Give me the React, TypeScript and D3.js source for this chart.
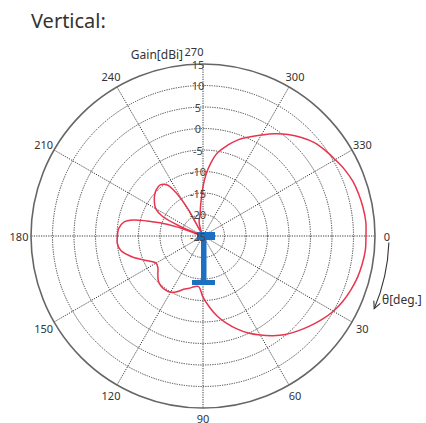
import React from "react";
import * as d3 from "d3";

// measured pattern, angle in degrees (0 = right, clockwise), gain in dBi
const angles = [
  0, 5, 10, 15, 20, 25, 30, 35, 40, 45, 50, 55, 60, 65, 70, 75, 80, 85, 90, 95,
  100, 105, 110, 115, 120, 125, 130, 135, 140, 145, 150, 155, 160, 165, 170,
  175, 180, 185, 190, 193, 195, 197, 199, 201, 203, 206, 210, 215, 220, 225,
  230, 235, 238, 241, 244, 248, 255, 262, 266, 270, 273, 276, 280, 285, 290,
  295, 300, 305, 310, 315, 320, 325, 330, 335, 340, 345, 350, 355,
];
const gains = [
  12.9, 12.9, 12.6, 12.2, 11.6, 10.9, 10.0, 8.8, 7.5, 6.2, 4.9, 3.3, 1.6, -0.1,
  -2.0, -4.0, -6.1, -8.5, -10.8, -13.2, -13.0, -12.4, -11.8, -10.7, -9.9, -9.7,
  -9.8, -10.3, -11.3, -12.2, -12.4, -11.2, -9.3, -7.3, -5.6, -5.0, -5.1, -5.3,
  -6.3, -8.4, -11.5, -14.5, -18.5, -25, -19, -14.4, -12.3, -11.2, -10.3, -9.7,
  -9.5, -10.5, -13, -18, -25, -24, -21.5, -20, -17.5, -13.5, -10.5, -8, -5.3,
  -3.2, -1.2, 0.4, 2.1, 4.0, 5.8, 7.4, 8.8, 9.7, 10.5, 11.4, 12.1, 12.5, 12.8,
  13.0,
];
const ringTicks = [15, 10, 5, 0, -5, -10, -15, -20, -25];
const spokeAngles = [0, 30, 60, 90, 120, 150, 180, 210, 240, 270, 300, 330];

const W = 426;
const H = 423;
const cx = 203;
const cy = 236;
const R = 172;
const font = "'Noto Sans', 'Open Sans', sans-serif";

export default function App() {
  const r = d3.scaleLinear().domain([-25, 15]).range([0, R]).clamp(true);
  const rad = (deg: number) => (deg * Math.PI) / 180;

  const pts = angles.map((a, i) => ({ a, g: gains[i] }));
  // lineRadial measures from 12 o'clock, so shift by 90deg
  const line = d3
    .lineRadial<{ a: number; g: number }>()
    .angle((d) => rad(d.a + 90))
    .radius((d) => r(d.g))
    .curve(d3.curveCatmullRomClosed.alpha(0.5));

  // theta arrow
  const arrow = d3.path();
  arrow.arc(cx, cy, 186, rad(2), rad(23));
  const tipA = rad(23);
  const tip = [cx + 186 * Math.cos(tipA), cy + 186 * Math.sin(tipA)];
  const back = Math.atan2(-Math.cos(tipA), Math.sin(tipA)); // reverse of tangent
  const wing = (off: number) => [
    tip[0] + 8 * Math.cos(back + off),
    tip[1] + 8 * Math.sin(back + off),
  ];
  const w1 = wing(0.45);
  const w2 = wing(-0.45);

  return (
    <svg
      width={W}
      height={H}
      style={{ position: "absolute", left: 0, top: 0, background: "#fff" }}
      fontFamily={font}
    >
      <text x={31} y={28} fontSize={20} fill="#333">
        Vertical:
      </text>

      {/* rings */}
      {ringTicks.slice(1, -1).map((t) => (
        <circle
          key={t}
          cx={cx}
          cy={cy}
          r={r(t)}
          fill="none"
          stroke="#3a3a3a"
          strokeWidth={1}
          strokeDasharray="1.2 1.2"
        />
      ))}
      {spokeAngles.map((a) => (
        <line
          key={a}
          x1={cx}
          y1={cy}
          x2={cx + R * Math.cos(rad(a))}
          y2={cy + R * Math.sin(rad(a))}
          stroke="#3a3a3a"
          strokeWidth={1}
          strokeDasharray="1.2 1.2"
        />
      ))}
      <circle cx={cx} cy={cy} r={R} fill="none" stroke="#666" strokeWidth={1.6} />

      {/* pattern */}
      <path d={line(pts) || ""} transform={`translate(${cx},${cy})`} fill="none" stroke="#e8344e" strokeWidth={1.5} />

      {/* antenna */}
      <g fill="#1c6fc1">
        <rect x={197} y={232} width={18} height={8} />
        <rect x={201} y={236} width={5.5} height={46} />
        <rect x={192} y={280} width={23} height={5} />
      </g>

      {/* gain labels */}
      {ringTicks.map((t) => (
        <text
          key={t}
          x={198}
          y={cy - r(t)}
          fontSize={11}
          fill="#444"
          textAnchor="middle"
          dominantBaseline="central"
        >
          {t}
        </text>
      ))}
      <text x={183} y={59} fontSize={12} fill="#333" textAnchor="end">
        Gain[dBi]
      </text>

      {/* angle labels */}
      {spokeAngles.map((a) => {
        const lr = a === 90 ? R + 10 : a === 270 ? R + 13 : R + 12;
        const x = cx + lr * Math.cos(rad(a)) + (a === 270 ? -9 : 0);
        const y = cy + lr * Math.sin(rad(a));
        return (
          <text
            key={a}
            x={x}
            y={y}
            fontSize={11}
            fill="#333"
            textAnchor="middle"
            dominantBaseline="central"
          >
            {a}
          </text>
        );
      })}

      <path d={arrow.toString()} fill="none" stroke="#333" strokeWidth={1.1} />
      <path
        d={`M${w1[0]},${w1[1]}L${tip[0]},${tip[1]}L${w2[0]},${w2[1]}`}
        fill="none"
        stroke="#333"
        strokeWidth={1.1}
      />
      <text x={382} y={304} fontSize={12} fill="#333">
        θ[deg.]
      </text>
    </svg>
  );
}
